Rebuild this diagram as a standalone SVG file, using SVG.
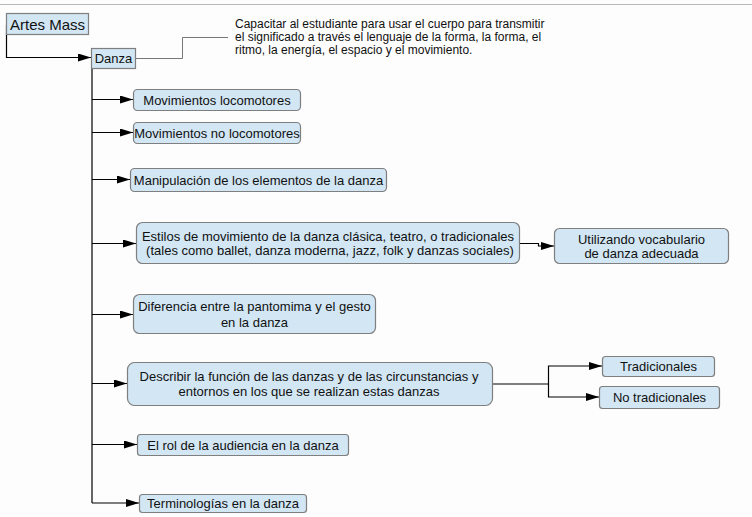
<svg xmlns="http://www.w3.org/2000/svg" width="752" height="517" viewBox="0 0 752 517">
<style>
.n{fill:#d2e6f4;stroke:#7f7f7f;stroke-width:1.2}
.t{font-family:"Liberation Sans",Arial,sans-serif;font-size:13px;fill:#111;text-anchor:middle}
.c{fill:none;stroke:#000;stroke-width:1.2}
.g{fill:none;stroke:#777;stroke-width:1}
</style>
<defs>
<marker id="a" markerUnits="userSpaceOnUse" markerWidth="14" markerHeight="10" refX="13" refY="4" orient="auto">
<path d="M0,0 L13,4 L0,8 z" fill="#000"/>
</marker>
</defs>
<rect x="0" y="0" width="752" height="517" fill="#fdfdfd"/>
<line x1="0" y1="4.5" x2="752" y2="4.5" stroke="#b8b8b8" stroke-width="1"/>
<g id="connectors">
<path class="c" d="M6.5,25 V57.5 H91" marker-end="url(#a)"/>
<path class="g" d="M136,58.5 H182.5 V37.5 H228"/>
<path class="c" d="M92,58 V503"/>
<path class="c" d="M92,99.5 H133" marker-end="url(#a)"/>
<path class="c" d="M92,132.5 H133" marker-end="url(#a)"/>
<path class="c" d="M92,179.5 H130" marker-end="url(#a)"/>
<path class="c" d="M92,243.5 H136" marker-end="url(#a)"/>
<path class="c" d="M92,314.5 H133" marker-end="url(#a)"/>
<path class="c" d="M92,383.5 H127" marker-end="url(#a)"/>
<path class="c" d="M92,444.5 H137" marker-end="url(#a)"/>
<path class="c" d="M92,503 H139" marker-end="url(#a)"/>
<path class="c" d="M520,243.5 H538.5 V246 H554" marker-end="url(#a)"/>
<path class="c" d="M493,384 H548.5 V366 H602" marker-end="url(#a)"/>
<path class="c" d="M548.5,384 V397 H599" marker-end="url(#a)"/>
</g>
<g id="artes">
<rect class="n" x="6.5" y="13.5" width="82" height="21"/>
<text class="t" x="47.5" y="30" style="font-size:15px">Artes Mass</text>
</g>
<g id="danza">
<rect class="n" x="91.5" y="48.5" width="44" height="20"/>
<text class="t" x="113.5" y="63">Danza</text>
</g>
<g id="nota">
<text x="235" y="28" style="font-family:'Liberation Sans',Arial,sans-serif;font-size:12px;fill:#111">
<tspan x="235" y="28">Capacitar al estudiante para usar el cuerpo para transmitir</tspan>
<tspan x="235" y="41">el significado a través el lenguaje de la forma, la forma, el</tspan>
<tspan x="235" y="54">ritmo, la energía, el espacio y el movimiento.</tspan>
</text>
</g>
<g id="n1">
<rect class="n" x="133.5" y="89.5" width="167" height="21" rx="4"/>
<text class="t" x="217" y="104.5">Movimientos locomotores</text>
</g>
<g id="n2">
<rect class="n" x="133.5" y="122.5" width="167" height="21" rx="4"/>
<text class="t" x="217" y="137.5">Movimientos no locomotores</text>
</g>
<g id="n3">
<rect class="n" x="130.5" y="168.5" width="256" height="23" rx="4"/>
<text class="t" x="258.5" y="184.5">Manipulación de los elementos de la danza</text>
</g>
<g id="n4">
<rect class="n" x="136.5" y="222.5" width="383" height="41" rx="6"/>
<text class="t" x="328" y="240.5">Estilos de movimiento de la danza clásica, teatro, o tradicionales</text>
<text class="t" x="330" y="255">(tales como ballet, danza moderna, jazz, folk y danzas sociales)</text>
</g>
<g id="n4a">
<rect class="n" x="554.5" y="228.5" width="174" height="35" rx="5"/>
<text class="t" x="641.5" y="243.5">Utilizando vocabulario</text>
<text class="t" x="641.5" y="258">de danza adecuada</text>
</g>
<g id="n5">
<rect class="n" x="133.5" y="294.5" width="242" height="39" rx="6"/>
<text class="t" x="254.5" y="311">Diferencia entre la pantomima y el gesto</text>
<text class="t" x="254.5" y="326.5">en la danza</text>
</g>
<g id="n6">
<rect class="n" x="127.5" y="362.5" width="365" height="43" rx="7"/>
<text class="t" x="309" y="381">Describir la función de las danzas y de las circunstancias y</text>
<text class="t" x="309" y="396">entornos en los que se realizan estas danzas</text>
</g>
<g id="n6a">
<rect class="n" x="602.5" y="356.5" width="112" height="20" rx="3"/>
<text class="t" x="658.5" y="371">Tradicionales</text>
</g>
<g id="n6b">
<rect class="n" x="599.5" y="386.5" width="120" height="22" rx="3"/>
<text class="t" x="659.5" y="402">No tradicionales</text>
</g>
<g id="n7">
<rect class="n" x="137.5" y="434.5" width="211" height="21" rx="3"/>
<text class="t" x="243" y="449.5">El rol de la audiencia en la danza</text>
</g>
<g id="n8">
<rect class="n" x="139.5" y="494.5" width="167" height="18" rx="3"/>
<text class="t" x="223" y="508">Terminologías en la danza</text>
</g>
</svg>
